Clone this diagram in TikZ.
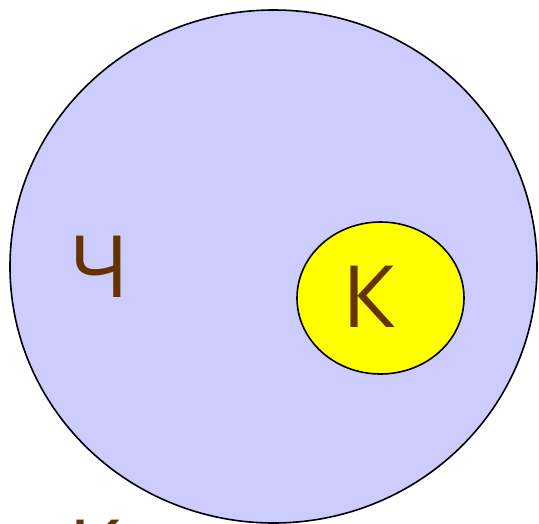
\documentclass[tikz,border=0pt]{standalone}
\usepackage{fontspec}
\setmainfont{Open Sans}
\definecolor{lav}{HTML}{CCCCFF}
\definecolor{ylw}{HTML}{FFFF00}
\definecolor{brn}{HTML}{663300}
\tikzset{
  setshape/.style={draw=black, line width=1.6pt},
  lbl/.style={text=brn, font=\fontsize{86}{100}\selectfont, inner sep=0pt, anchor=base west}
}
\begin{document}
\begin{tikzpicture}[x=1pt,y=-1pt]
\useasboundingbox (0,0) rectangle (539,523);
\clip (0,0) rectangle (539,523);
\fill[white] (0,0) rectangle (539,523);
\draw[setshape, fill=lav] (273.5,266.5) ellipse [x radius=263.5, y radius=256.5];
\draw[setshape, fill=ylw] (380.5,298) ellipse [x radius=83.5, y radius=76];
\node[lbl] (ch) at (69,297) {Ч};
\node[lbl] (k) at (342,327) {К};
\node[lbl] (bottom) at (68,581) {К};
\end{tikzpicture}
\end{document}
